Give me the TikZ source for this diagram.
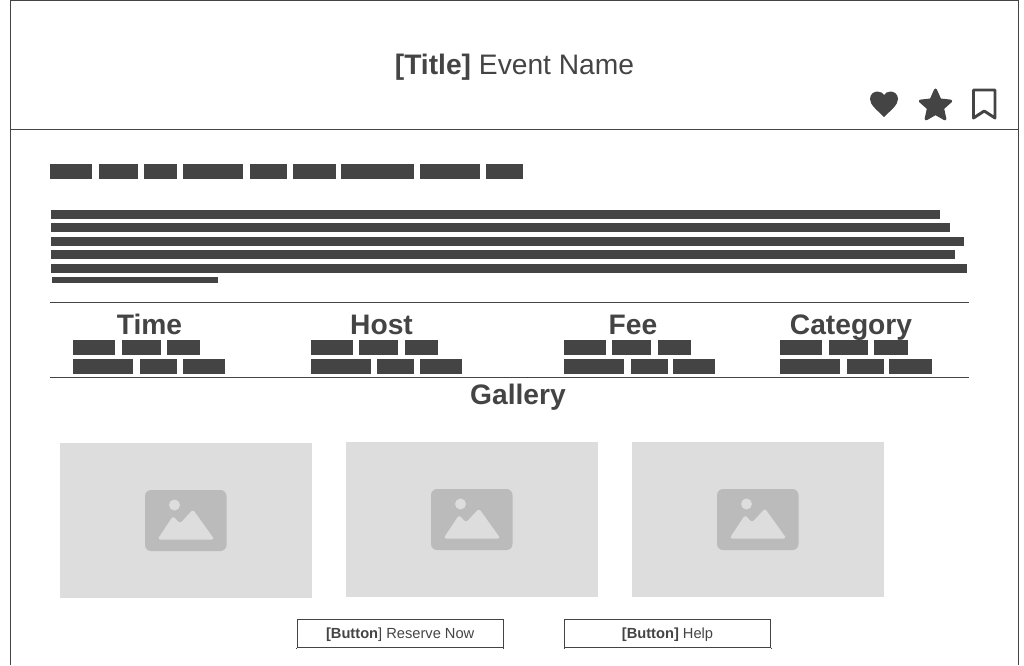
\documentclass[tikz,border=0pt]{standalone}
\usepackage{fontspec}
\setmainfont{Liberation Sans}
\definecolor{inkgray}{HTML}{444444}
\definecolor{photogray}{HTML}{DDDDDD}
\definecolor{icongray}{HTML}{BBBBBB}
\tikzset{
  heading/.style={inkgray,font=\fontsize{21.15}{25}\selectfont,anchor=base,inner sep=0pt},
  boldhead/.style={heading,font=\fontsize{21.15}{25}\selectfont\bfseries},
  btn/.style={draw=inkgray,line width=.75pt,minimum width=154.5pt,minimum height=21pt,inner sep=0pt,
    text=inkgray,font=\fontsize{11}{13}\selectfont,text height=9pt,text depth=1pt},
  rule/.style={inkgray,line width=.75pt}
}
\begin{document}
\begin{tikzpicture}[x=.75pt,y=-.75pt,fill=inkgray]
  \useasboundingbox (0,0) rectangle (1024,665);
  \def\wordbar#1#2#3#4{\fill (#1,#3) rectangle (#2,#4);}
  \def\photo#1#2{%
    \fill[photogray] (#1,#2) rectangle ++(252,155);
    \fill[icongray,rounded corners=4.5pt] (#1+85,#2+47) rectangle ++(81.5,61);
    \fill[photogray] (#1+114.5,#2+62) circle (5.5);
    \fill[photogray,rounded corners=2pt] (#1+97.5,#2+96.5) -- (#1+113,#2+73) -- (#1+120,#2+80.5)
      -- (#1+133,#2+66.5) -- (#1+154.5,#2+96.5) -- cycle;}

  % page frame
  \draw[rule] (10.5,665) -- (10.5,.5) -- (1018.5,.5) -- (1018.5,665);
  \draw[rule] (10.5,129.5) -- (1018.5,129.5);

  \node[heading] (title) at (514.5,74.3) {\textbf{[Title]} Event Name};

  % heart, star, bookmark
  \fill (884,117) .. controls (877,110) and (870,105) .. (870,99)
    .. controls (870,94) and (874,91.5) .. (877.5,91.5) .. controls (880.5,91.5) and (883,93) .. (884,95)
    .. controls (885,93) and (887.5,91.5) .. (890.5,91.5) .. controls (894,91.5) and (898,94) .. (898,99)
    .. controls (898,105) and (891,110) .. (884,117) -- cycle;
  \filldraw[draw=inkgray,line width=2.2pt,line join=round] (935.5,90) -- (939.9,99.9) -- (950.7,101.1)
    -- (942.6,108.3) -- (944.9,118.9) -- (935.5,113.5) -- (926.1,118.9) -- (928.4,108.3)
    -- (920.3,101.1) -- (931.1,99.9) -- cycle;
  \draw[inkgray,line width=2.2pt,line join=round] (973.5,90) -- (995,90) -- (995,118) -- (984.2,111)
    -- (973.5,118) -- cycle;

  % name line
  \foreach \a/\b in {50/92,99/138,144/177,183/243,250/287,293/336,341/414,420/480,486/523}
    {\wordbar{\a}{\b}{164}{179}}

  % description lines
  \foreach \top/\right in {210/940,223/950,237/964,250/955,264/967}
    {\fill (51,\top) rectangle (\right,\top+9);}
  \fill (52,277) rectangle (218,283);

  \draw[rule] (50,302.5) -- (969,302.5);
  \draw[rule] (50,377.5) -- (969,377.5);

  \node[boldhead] (time) at (149.5,334.3) {Time};
  \node[boldhead] (host) at (381.5,334.3) {Host};
  \node[boldhead] (fee) at (633,334.3) {Fee};
  \node[boldhead] (category) at (851,334.3) {Category};

  % word rows under each heading
  \foreach \a/\b in {73/115,122/161,167/200,311/353,359/398,405/438,564/606,612/651,658/691,780/822,829/868,874/908}
    {\wordbar{\a}{\b}{340}{355}}
  \foreach \a/\b in {73/133,140/177,183/225,311/371,377/414,420/462,564/624,631/668,673/715,780/840,847/884,889/932}
    {\wordbar{\a}{\b}{359}{374}}

  \node[boldhead] (gallery) at (518,404.3) {Gallery};

  \photo{60}{443}
  \photo{346}{442}
  \photo{632}{442}

  \node[btn] (reserve) at (400.2,633) {\textbf{[Button}] Reserve Now};
  \node[btn] (help) at (667.5,633) {\textbf{[Button]} Help};
  % the button sides run a little past the bottom line
  \foreach \b in {reserve,help}
    {\draw[rule] (\b.south west) -- ++(0,1);
     \draw[rule] (\b.south east) -- ++(0,1);}
\end{tikzpicture}
\end{document}
